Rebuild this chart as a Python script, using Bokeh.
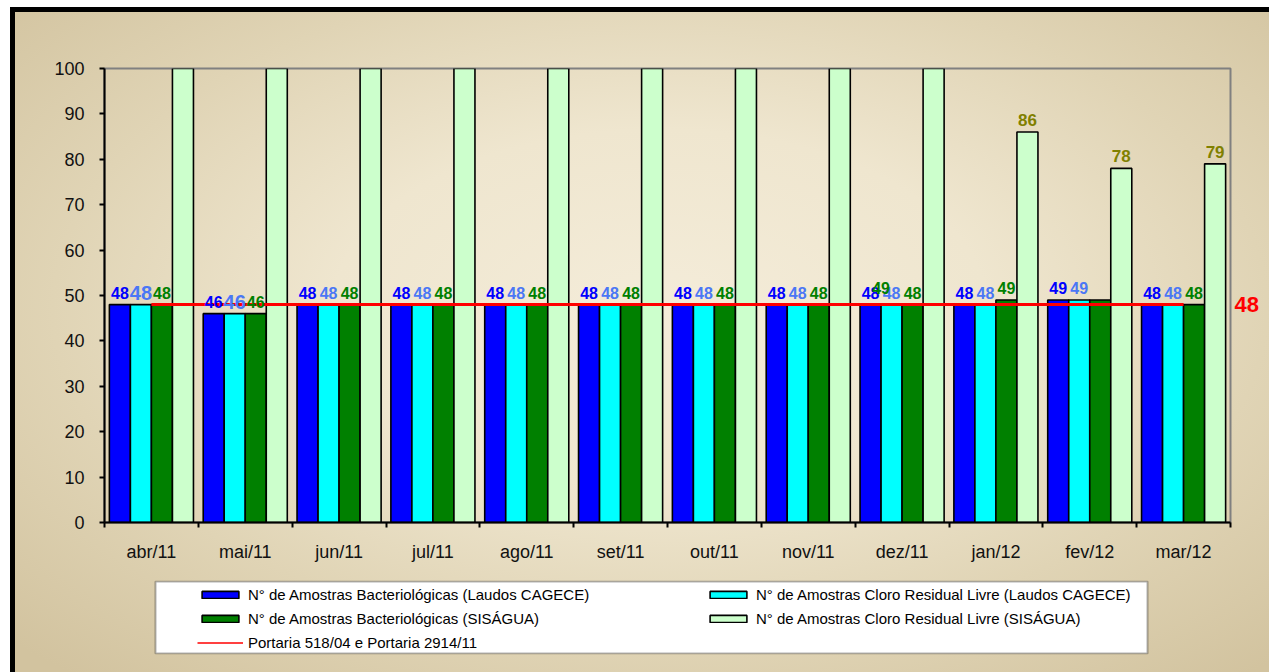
from bokeh.plotting import figure
from bokeh.layouts import column
from bokeh.models import (Range1d, FixedTicker, Legend, LegendItem, LinearAxis,
                          ColumnDataSource, BoxAnnotation)
from bokeh.core.properties import value
from bokeh.embed import file_html
from bokeh.resources import INLINE

# ---------------- data ----------------
months = ["abr/11", "mai/11", "jun/11", "jul/11", "ago/11", "set/11",
          "out/11", "nov/11", "dez/11", "jan/12", "fev/12", "mar/12"]
bact_cagece = [48, 46, 48, 48, 48, 48, 48, 48, 48, 48, 49, 48]
cloro_cagece = [48, 46, 48, 48, 48, 48, 48, 48, 48, 48, 49, 48]
bact_sisagua = [48, 46, 48, 48, 48, 48, 48, 48, 48, 49, 49, 48]
cloro_sisagua = [120, 120, 120, 120, 120, 120, 120, 120, 120, 86, 78, 79]
portaria = [48] * 12

bact_sisagua_show = [1, 1, 1, 1, 1, 1, 1, 1, 1, 1, 0, 1]
cloro_sisagua_show = [0, 0, 0, 0, 0, 0, 0, 0, 0, 1, 1, 1]
cloro_cagece_big = [1, 1, 0, 0, 0, 0, 0, 0, 0, 0, 0, 0]
extra_label_month = ["dez/11"]
extra_label_value = [49]

yticks = [0, 10, 20, 30, 40, 50, 60, 70, 80, 90, 100]

series_names = [
    "N° de Amostras Bacteriológicas (Laudos CAGECE)",
    "N° de Amostras Cloro Residual Livre (Laudos CAGECE)",
    "N° de Amostras Bacteriológicas (SISÁGUA)",
    "N° de Amostras Cloro Residual Livre (SISÁGUA)",
]
line_name = "Portaria 518/04 e Portaria 2914/11"

# ---------------- chart figure ----------------
FONT = "Liberation Sans"
n = len(months)
centers = [i + 0.5 for i in range(n)]
bw = 0.224
offsets = [-1.5 * bw, -0.5 * bw, 0.5 * bw, 1.5 * bw]
fills = ["#0000FF", "#00FFFF", "#008000", "#CCFFCC"]
vals = [bact_cagece, cloro_cagece, bact_sisagua, cloro_sisagua]

BL, BR = 104, 39  # frame borders (left, right) shared by both figures

p = figure(width=1269, height=575, output_backend="svg", toolbar_location=None,
           x_range=Range1d(0, n), y_range=Range1d(0, 100),
           min_border_left=BL, min_border_top=68, min_border_right=BR,
           min_border_bottom=53)
p.border_fill_alpha = 0
p.background_fill_alpha = 0
p.outline_line_color = "#808080"
p.outline_line_width = 2
p.grid.visible = False

for k in range(4):
    src = ColumnDataSource(dict(x=[c + offsets[k] for c in centers], top=vals[k]))
    p.vbar(x="x", top="top", width=bw, source=src, fill_color=fills[k],
           line_color="#000000", line_width=1.6)

p.line(x=centers, y=portaria, line_color="#FF0000", line_width=3)

def add_labels(xs, ys, texts, color, size):
    src = ColumnDataSource(dict(x=xs, y=ys, t=texts, s=size))
    p.text(x="x", y="y", text="t", source=src, text_align="center",
           text_baseline="alphabetic", y_offset=-12, text_color=color,
           text_font=value(FONT), text_font_style="bold", text_font_size="s")

add_labels([c + offsets[0] for c in centers], bact_cagece,
           [str(v) for v in bact_cagece], "#0000FF", ["16px"] * n)
add_labels([c + offsets[1] for c in centers], cloro_cagece,
           [str(v) for v in cloro_cagece], "#4B77F5",
           ["20px" if b else "16px" for b in cloro_cagece_big])
add_labels([c + offsets[2] for c, s in zip(centers, bact_sisagua_show) if s],
           [v for v, s in zip(bact_sisagua, bact_sisagua_show) if s],
           [str(v) for v, s in zip(bact_sisagua, bact_sisagua_show) if s],
           "#008000", ["16px"] * sum(bact_sisagua_show))
add_labels([c + offsets[3] for c, s in zip(centers, cloro_sisagua_show) if s],
           [v for v, s in zip(cloro_sisagua, cloro_sisagua_show) if s],
           [str(v) for v, s in zip(cloro_sisagua, cloro_sisagua_show) if s],
           "#808000", ["17px"] * sum(cloro_sisagua_show))
add_labels([centers[months.index(m)] - bw for m in extra_label_month],
           extra_label_value, [str(v) for v in extra_label_value],
           "#008000", ["16px"] * len(extra_label_value))

yax = p.yaxis[0]
yax.ticker = FixedTicker(ticks=yticks)
yax.axis_line_color = "#000000"
yax.axis_line_width = 2
yax.major_tick_out = 5
yax.major_tick_in = 0
yax.major_tick_line_width = 2
yax.minor_tick_line_color = None
yax.major_label_standoff = 15
yax.major_label_text_font = FONT
yax.major_label_text_font_size = "18px"
yax.major_label_text_color = "#111111"

xax = p.xaxis[0]
xax.ticker = FixedTicker(ticks=centers, minor_ticks=list(range(n + 1)))
xax.major_label_overrides = {c: m for c, m in zip(centers, months)}
xax.axis_line_color = "#000000"
xax.axis_line_width = 2
xax.major_tick_line_color = None
xax.major_tick_out = 0
xax.major_tick_in = 0
xax.minor_tick_out = 5
xax.minor_tick_in = 0
xax.minor_tick_line_color = "#000000"
xax.minor_tick_line_width = 2
xax.major_label_standoff = 14
xax.major_label_text_font = FONT
xax.major_label_text_font_size = "18px"
xax.major_label_text_color = "#111111"

# right-side value of the standard (as a single tick of a right axis)
rax = LinearAxis(ticker=FixedTicker(ticks=[portaria[-1]]))
rax.axis_line_color = None
rax.major_tick_line_color = None
rax.major_tick_out = 0
rax.major_tick_in = 0
rax.minor_tick_line_color = None
rax.minor_tick_out = 0
rax.major_label_standoff = 4
rax.major_label_text_font = FONT
rax.major_label_text_font_style = "bold"
rax.major_label_text_font_size = "22px"
rax.major_label_text_color = "#FF0000"
p.add_layout(rax, "right")

# ---------------- legend figure ----------------
# frame in pixel units: x 0..1126 (page 104..1230), y 0..74 (page 654..580)
FW = 1269 - BL - BR
q = figure(width=1269, height=97, output_backend="svg", toolbar_location=None,
           x_range=Range1d(0, FW), y_range=Range1d(0, 74),
           x_axis_type=None, y_axis_type=None,
           min_border_left=BL, min_border_right=BR, min_border_top=5,
           min_border_bottom=18)
q.border_fill_alpha = 0
q.background_fill_alpha = 0
q.outline_line_color = None

# legend proxies, hidden beneath the white legend box
proxies = []
for k in range(4):
    proxies.append(q.vbar(x=[600], top=[30], bottom=[29], width=1,
                          fill_color=fills[k], line_color="#000000",
                          line_width=1.6))
proxies.append(q.line(x=[600, 601], y=[30, 30], line_color="#FF0000",
                      line_width=1.5))

q.add_layout(BoxAnnotation(left=51, right=1043, bottom=1, top=73,
                           fill_color="#FFFFFF", fill_alpha=1.0,
                           line_color="#000000", line_width=2))

# column-major fill: column 1 = items 0, 2, 4 ; column 2 = items 1, 3
items = [LegendItem(label=series_names[0], renderers=[proxies[0]]),
         LegendItem(label=series_names[2], renderers=[proxies[2]]),
         LegendItem(label=line_name, renderers=[proxies[4]]),
         LegendItem(label=series_names[1], renderers=[proxies[1]]),
         LegendItem(label=series_names[3], renderers=[proxies[3]])]
legend = Legend(items=items, ncols=2, location=(93, 1),
                glyph_width=46, glyph_height=9, label_standoff=5,
                label_width=454, label_height=21, spacing=3, padding=0,
                margin=0, border_line_color=None, background_fill_alpha=0,
                label_text_font=FONT, label_text_font_size="15px",
                label_text_color="#000000")
q.add_layout(legend, "center")

layout = column(p, q, spacing=0)
layout.styles = {
    "background": (
        "linear-gradient(#000,#000) 10px 7px / 5px 100% no-repeat, "
        "linear-gradient(#000,#000) 10px 7px / 100% 5px no-repeat, "
        "linear-gradient(#fff,#fff) 0 0 / 10px 100% no-repeat, "
        "linear-gradient(#fff,#fff) 0 0 / 100% 7px no-repeat, "
        "radial-gradient(ellipse at 52% 46%, #F4ECD9 0%, #EFE6CF 35%, #E0D4B5 65%, #D2C39F 95%)"
    ),
}

open("out.html", "w").write(file_html(layout, INLINE))
